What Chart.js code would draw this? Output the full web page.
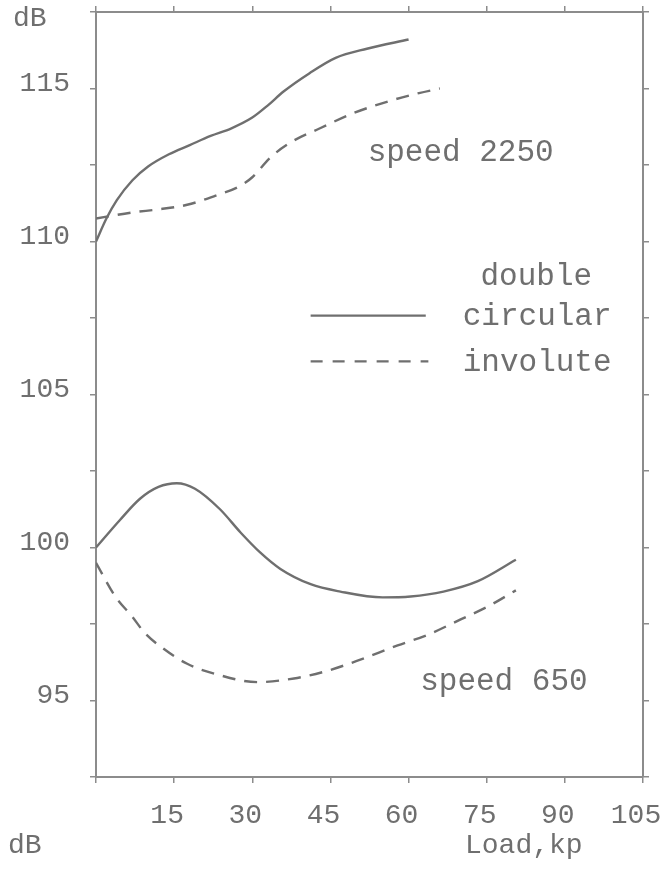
<!DOCTYPE html>
<html>
<head>
<meta charset="utf-8">
<script src="https://cdn.jsdelivr.net/npm/chart.js@4/dist/chart.umd.min.js"></script>
<style>
  html, body { margin: 0; padding: 0; background: #fff; }
  #wrap { width: 669px; height: 888px; }
</style>
</head>
<body>
<div id="wrap"><canvas id="noiseChart" width="669" height="888"></canvas></div>
<script>
// load values (kp) and sound level (dB)
const loadCircular2250 = [0, 2, 4, 7, 10, 14, 18, 22, 26, 30, 33, 36, 41, 46, 52, 60];
const dbCircular2250   = [110, 110.75, 111.35, 112.0, 112.45, 112.85, 113.15, 113.45, 113.7, 114.05, 114.45, 114.9, 115.5, 116.0, 116.3, 116.6];

const loadInvolute2250 = [0, 7, 12, 17.5, 23, 27.5, 30, 33.5, 37.5, 43, 49.5, 56.5, 62, 66];
const dbInvolute2250   = [110.75, 110.95, 111.05, 111.2, 111.5, 111.8, 112.1, 112.75, 113.25, 113.7, 114.2, 114.6, 114.85, 115.0];

const loadCircular650 = [0, 4.6, 8.5, 12, 15.5, 19, 23.8, 27.7, 31.5, 35.4, 41.2, 46.9, 55, 60.4, 66.7, 73.3, 80.6];
const dbCircular650   = [100, 100.9, 101.6, 101.98, 102.1, 101.92, 101.25, 100.5, 99.84, 99.3, 98.8, 98.56, 98.37, 98.4, 98.56, 98.9, 99.6];

const loadInvolute650 = [0, 3.7, 6.9, 9.4, 12.9, 17.5, 23.3, 31, 38, 44, 50.2, 57.9, 63.7, 70, 75.2, 80.6];
const dbInvolute650   = [99.5, 98.4, 97.75, 97.2, 96.7, 96.2, 95.85, 95.6, 95.72, 95.95, 96.3, 96.8, 97.15, 97.65, 98.07, 98.6];

const xTicks = [15, 30, 45, 60, 75, 90, 105];
const yTicks = [95, 100, 105, 110, 115];

const INK = '#6f6f6f';
const FRAME = '#8c8c8c';
const TYPE = "'Liberation Mono', 'DejaVu Sans Mono', monospace";

function toPoints(xs, ys) {
    return xs.map((x, i) => ({ x: x, y: ys[i] }));
}

// fixed box sizes, no auto padding for overflowing labels
function fixBox(prop, size) {
    return s => {
        s[prop] = size;
        s.paddingTop = 0;
        s.paddingBottom = 0;
        s.paddingLeft = 0;
        s.paddingRight = 0;
    };
}

// typewriter labels + legend, placed through the scales
const notesPlugin = {
    id: 'notes',
    afterDraw(chart) {
        const ctx = chart.ctx;
        const xs = chart.scales.x;
        const ys = chart.scales.y;
        const px = v => xs.getPixelForValue(v);
        const py = v => ys.getPixelForValue(v);
        ctx.save();
        ctx.fillStyle = INK;
        ctx.font = '31px ' + TYPE;
        ctx.textBaseline = 'middle';

        ctx.textAlign = 'center';
        ctx.fillText('speed 2250', px(70), py(112.9));
        ctx.fillText('speed 650', px(78.3), py(95.6));

        ctx.textAlign = 'left';
        ctx.fillText('double', px(73.8), py(108.86));
        ctx.fillText('circular', px(70.4), py(107.55));
        ctx.fillText('involute', px(70.4), py(106.05));

        // legend sample lines
        ctx.strokeStyle = INK;
        ctx.lineWidth = 2.2;
        ctx.beginPath();
        ctx.moveTo(px(41.2), py(107.58));
        ctx.lineTo(px(63.3), py(107.58));
        ctx.stroke();
        ctx.setLineDash([12, 10]);
        ctx.beginPath();
        ctx.moveTo(px(41.2), py(106.08));
        ctx.lineTo(px(63.8), py(106.08));
        ctx.stroke();
        ctx.setLineDash([]);

        // axis captions
        ctx.font = '28px ' + TYPE;
        ctx.textAlign = 'left';
        ctx.fillText('dB', 13, 19);
        ctx.fillText('dB', 8, 846);
        ctx.fillText('Load,kp', 465, 846);
        ctx.restore();
    }
};

const lineStyle = {
    borderColor: INK,
    borderWidth: 2.4,
    pointRadius: 0,
    cubicInterpolationMode: 'monotone',
    fill: false
};

const tickGrid = {
    drawOnChartArea: false,
    drawTicks: true,
    tickLength: 6,
    color: FRAME,
    lineWidth: 1.5
};

const xTickList = s => { s.ticks = [0].concat(xTicks).map(v => ({ value: v })); };
const yTickList = s => {
    const t = [];
    for (let v = 92.5; v <= 117.5; v += 2.5) t.push({ value: v });
    s.ticks = t;
};

new Chart(document.getElementById('noiseChart'), {
    type: 'line',
    data: {
        datasets: [
            { ...lineStyle, label: 'double circular 2250', data: toPoints(loadCircular2250, dbCircular2250) },
            { ...lineStyle, label: 'involute 2250', borderDash: [13, 9], data: toPoints(loadInvolute2250, dbInvolute2250) },
            { ...lineStyle, label: 'double circular 650', data: toPoints(loadCircular650, dbCircular650) },
            { ...lineStyle, label: 'involute 650', borderDash: [13, 9], data: toPoints(loadInvolute650, dbInvolute650) }
        ]
    },
    options: {
        responsive: false,
        animation: false,
        layout: { padding: 0 },
        plugins: {
            legend: { display: false },
            tooltip: { enabled: false }
        },
        scales: {
            x: {
                type: 'linear',
                position: 'bottom',
                min: 0,
                max: 105,
                afterBuildTicks: xTickList,
                afterFit: fixBox('height', 111),
                ticks: {
                    padding: 16,
                    labelOffset: -7,
                    color: INK,
                    font: { family: TYPE, size: 28 },
                    maxRotation: 0,
                    autoSkip: false,
                    callback: v => (v === 0 ? '' : String(v))
                },
                grid: tickGrid,
                border: { display: true, color: FRAME, width: 2 }
            },
            xTop: {
                type: 'linear',
                position: 'top',
                min: 0,
                max: 105,
                afterBuildTicks: xTickList,
                afterFit: fixBox('height', 12),
                ticks: { display: false },
                grid: tickGrid,
                border: { display: true, color: FRAME, width: 2 }
            },
            y: {
                type: 'linear',
                position: 'left',
                min: 92.5,
                max: 117.5,
                afterBuildTicks: yTickList,
                afterFit: fixBox('width', 96),
                ticks: {
                    padding: 20,
                    labelOffset: -5,
                    color: INK,
                    font: { family: TYPE, size: 28 },
                    autoSkip: false,
                    callback: v => (yTicks.includes(v) ? String(v) : '')
                },
                grid: tickGrid,
                border: { display: true, color: FRAME, width: 2 }
            },
            yRight: {
                type: 'linear',
                position: 'right',
                min: 92.5,
                max: 117.5,
                afterBuildTicks: yTickList,
                afterFit: fixBox('width', 26),
                ticks: { display: false },
                grid: tickGrid,
                border: { display: true, color: FRAME, width: 2 }
            }
        }
    },
    plugins: [notesPlugin]
});
</script>
</body>
</html>
